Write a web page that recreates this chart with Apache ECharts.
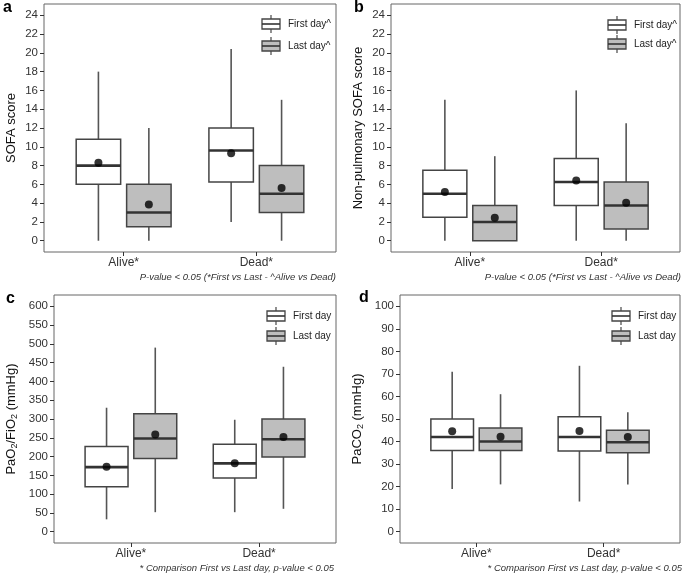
<!DOCTYPE html>
<html><head><meta charset="utf-8">
<script src="https://cdn.jsdelivr.net/npm/echarts@6/dist/echarts.min.js"></script>
<style>html,body{margin:0;padding:0;background:#fff}#c{width:685px;height:580px}</style>
</head><body><div id="c"></div>
<script>
// ---------- data ----------
const categories = ['Alive*', 'Dead*'];
const legendAB = ['First day^', 'Last day^'];
const legendCD = ['First day', 'Last day'];
const captionAB = 'P-value < 0.05 (*First vs Last - ^Alive vs Dead)';
const captionCD = '* Comparison First vs Last day, p-value < 0.05';
const panelLetters = ['a', 'b', 'c', 'd'];
const yNames = ['SOFA score', 'Non-pulmonary SOFA score', 'PaO{s|2}/FiO{s|2} (mmHg)', 'PaCO{s|2} (mmHg)'];

// box stats per category: [min, q1, median, q3, max]
const sofaFirst = [[0, 6, 8, 10.8, 18], [2, 6.25, 9.6, 12, 20.4]];
const sofaLast  = [[0, 1.5, 3, 6, 12], [0, 3, 5, 8, 15]];
const sofaFirstMean = [8.3, 9.3];
const sofaLastMean  = [3.85, 5.6];

const npFirst = [[0, 2.5, 5, 7.5, 15], [0, 3.75, 6.25, 8.75, 16]];
const npLast  = [[0, 0, 2, 3.75, 9], [0, 1.25, 3.75, 6.25, 12.5]];
const npFirstMean = [5.2, 6.4];
const npLastMean  = [2.45, 4.05];

const pfFirst = [[33, 120, 172, 227, 330], [52, 143, 182, 233, 298]];
const pfLast  = [[52, 195, 248, 314, 490], [61, 199, 246, 300, 439]];
const pfFirstMean = [173, 182];
const pfLastMean  = [259, 252];

const pcFirst = [[19, 36, 42, 50, 71], [13.4, 35.8, 42, 51, 73.6]];
const pcLast  = [[21, 36, 40, 46, 61], [21, 35, 39.7, 45, 53]];
const pcFirstMean = [44.6, 44.7];
const pcLastMean  = [42.1, 42];

const ticksSofa = [0, 2, 4, 6, 8, 10, 12, 14, 16, 18, 20, 22, 24];
const ticksPF = [0, 50, 100, 150, 200, 250, 300, 350, 400, 450, 500, 550, 600];
const ticksPC = [0, 10, 20, 30, 40, 50, 60, 70, 80, 90, 100];

// ---------- layout / style ----------
const FONT = '"Liberation Sans", Arial, Helvetica, sans-serif';
const OFF = 0.19, BOXW = 0.335;
const FILLS = ['#ffffff', '#bebebe'];
const panels = [
  { grid: {left: 44, top: 4, width: 292, height: 248}, ymin: -1.2, ymax: 25.2, ticks: ticksSofa,
    first: sofaFirst, last: sofaLast, fm: sofaFirstMean, lm: sofaLastMean, leg: legendAB, cap: captionAB,
    legPos: [262, 24, 46], capPos: [336, 277], letterPos: [3, 8], nameGap: 26 },
  { grid: {left: 391, top: 4, width: 289, height: 248}, ymin: -1.2, ymax: 25.2, ticks: ticksSofa,
    first: npFirst, last: npLast, fm: npFirstMean, lm: npLastMean, leg: legendAB, cap: captionAB,
    legPos: [608, 25, 44], capPos: [681, 277], letterPos: [354, 8], nameGap: 26 },
  { grid: {left: 54, top: 295, width: 282, height: 248}, ymin: -30, ymax: 630, ticks: ticksPF,
    first: pfFirst, last: pfLast, fm: pfFirstMean, lm: pfLastMean, leg: legendCD, cap: captionCD,
    legPos: [267, 316, 336], capPos: [334, 568], letterPos: [6, 299], nameGap: 35 },
  { grid: {left: 400, top: 295, width: 280, height: 248}, ymin: -5, ymax: 105, ticks: ticksPC,
    first: pcFirst, last: pcLast, fm: pcFirstMean, lm: pcLastMean, leg: legendCD, cap: captionCD,
    legPos: [612, 316, 336], capPos: [682, 568], letterPos: [359, 298], nameGap: 35 }
];

function boxRender(off, fill) {
  return function (params, api) {
    const x = api.value(0) + off;
    const lo = api.coord([x, api.value(1)]);
    const q1 = api.coord([x, api.value(2)]);
    const md = api.coord([x, api.value(3)]);
    const q3 = api.coord([x, api.value(4)]);
    const hi = api.coord([x, api.value(5)]);
    const w = api.size([BOXW, 0])[0];
    const cx = lo[0];
    const wl = {stroke: '#555', lineWidth: 1.6};
    return {type: 'group', children: [
      {type: 'line', shape: {x1: cx, y1: hi[1], x2: cx, y2: q3[1]}, style: wl},
      {type: 'line', shape: {x1: cx, y1: q1[1], x2: cx, y2: lo[1]}, style: wl},
      {type: 'rect', shape: {x: cx - w / 2, y: q3[1], width: w, height: q1[1] - q3[1]},
        style: {fill: fill, stroke: '#444', lineWidth: 1.5}},
      {type: 'line', shape: {x1: cx - w / 2, y1: md[1], x2: cx + w / 2, y2: md[1]},
        style: {stroke: '#333', lineWidth: 2.6}}
    ]};
  };
}

const grids = [], xAxes = [], yAxes = [], series = [], graphics = [];
panels.forEach((p, i) => {
  grids.push(Object.assign({show: true, borderColor: '#666', borderWidth: 1, backgroundColor: '#fff',
    containLabel: false, outerBoundsMode: 'none'}, p.grid));
  xAxes.push({type: 'value', gridIndex: i, min: 0.4, max: 2.6, position: 'bottom',
    axisLine: {show: false, onZero: false}, splitLine: {show: false},
    axisTick: {show: true, customValues: [1, 2], length: 4, lineStyle: {color: '#333', width: 1}},
    axisLabel: {customValues: [1, 2], formatter: v => categories[Math.round(v) - 1] || '',
      fontSize: 12, color: '#333', fontFamily: FONT, margin: 5}});
  yAxes.push({type: 'value', gridIndex: i, min: p.ymin, max: p.ymax, position: 'left',
    axisLine: {show: false, onZero: false}, splitLine: {show: false},
    axisTick: {show: true, customValues: p.ticks, length: 4, lineStyle: {color: '#333', width: 1}},
    axisLabel: {customValues: p.ticks, fontSize: 11.5, color: '#333', fontFamily: FONT, margin: 6},
    name: yNames[i], nameLocation: 'middle', nameGap: p.nameGap,
    nameTextStyle: {fontSize: 13, color: '#111', fontFamily: FONT,
      rich: {s: {fontSize: 9, fontFamily: FONT, color: '#111', padding: [7, 0, 0, 0]}}}});
  [[p.first, -OFF, FILLS[0]], [p.last, OFF, FILLS[1]]].forEach(([d, off, fill]) => {
    series.push({type: 'custom', xAxisIndex: i, yAxisIndex: i,
      renderItem: boxRender(off, fill),
      encode: {x: 0, y: [1, 2, 3, 4, 5]},
      data: d.map((s, k) => [k + 1].concat(s)), z: 2, silent: true});
  });
  [[p.fm, -OFF], [p.lm, OFF]].forEach(([m, off]) => {
    series.push({type: 'scatter', xAxisIndex: i, yAxisIndex: i, symbol: 'circle', symbolSize: 8,
      itemStyle: {color: '#000'}, z: 5, silent: true,
      data: m.map((v, k) => [k + 1 + off, v])});
  });
  // legend keys
  const [lx, ly1, ly2] = p.legPos;
  [ly1, ly2].forEach((ly, k) => {
    const kw = 18, kh = 10, cx = lx + kw / 2;
    graphics.push({type: 'line', shape: {x1: cx, y1: ly - kh / 2 - 4, x2: cx, y2: ly + kh / 2 + 4},
      style: {stroke: '#555', lineWidth: 1.3}, z: 10});
    graphics.push({type: 'rect', shape: {x: lx, y: ly - kh / 2, width: kw, height: kh},
      style: {fill: FILLS[k], stroke: '#444', lineWidth: 1.3}, z: 11});
    graphics.push({type: 'line', shape: {x1: lx, y1: ly, x2: lx + kw, y2: ly},
      style: {stroke: '#333', lineWidth: 1.6}, z: 12});
    graphics.push({type: 'text', x: lx + kw + 8, y: ly, z: 12,
      style: {text: p.leg[k], fontSize: 10, fontFamily: FONT, fill: '#222',
        textAlign: 'left', textVerticalAlign: 'middle'}});
  });
  graphics.push({type: 'text', x: p.capPos[0], y: p.capPos[1], z: 12,
    style: {text: p.cap, fontSize: 9.5, fontStyle: 'italic', fontFamily: FONT, fill: '#333',
      textAlign: 'right', textVerticalAlign: 'middle'}});
  graphics.push({type: 'text', x: p.letterPos[0], y: p.letterPos[1], z: 12,
    style: {text: panelLetters[i], fontSize: 16, fontWeight: 'bold', fontFamily: FONT, fill: '#000',
      textAlign: 'left', textVerticalAlign: 'middle'}});
});

const chart = echarts.init(document.getElementById('c'), null, {renderer: 'canvas'});
chart.setOption({
  animation: false,
  backgroundColor: '#fff',
  grid: grids, xAxis: xAxes, yAxis: yAxes, series: series, graphic: graphics
});
</script>
</body></html>
